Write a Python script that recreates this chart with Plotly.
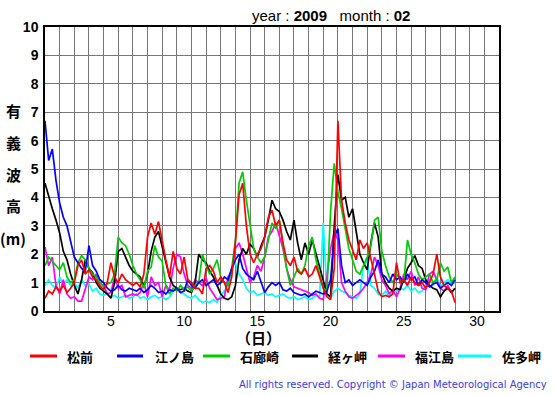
import plotly.graph_objects as go

# ---- data (6-hourly samples from Feb 1 00:00 to Feb 29 00:00, 2009) ----
step_days = 0.25
start_x = 0.5

matsumae = [0.45, 0.7, 0.6, 0.85, 0.7, 0.9, 0.65, 0.8, 1.0, 1.6, 1.8, 1.3, 1.45, 1.2, 1.1, 0.9,
            0.75, 1.0, 1.7, 1.2, 1.0, 1.3, 1.1, 1.0, 0.9, 1.0, 0.85, 1.3, 2.6, 3.1, 2.7, 3.15,
            2.4, 1.8, 1.2, 2.1, 1.5, 1.3, 1.9, 1.1, 1.0, 0.8, 0.8, 0.6, 1.5, 1.6, 1.4, 1.0,
            1.2, 1.0, 0.65, 1.2, 2.4, 4.1, 4.5, 3.0, 2.0, 1.7, 2.0, 2.2, 2.6, 3.3, 3.55, 3.0,
            3.2, 2.4, 1.8, 1.6, 1.9, 1.4, 1.3, 1.5, 1.2, 1.3, 1.6, 1.2, 0.8, 0.5, 0.4, 1.5,
            6.7, 3.9, 3.1, 2.5, 2.15, 1.8, 2.5, 2.2, 2.4, 1.9, 1.3, 0.7, 0.5, 0.55, 0.5, 0.6,
            1.7, 1.0, 1.1, 0.9, 1.2, 1.0, 0.9, 1.0, 0.8, 1.0, 1.3, 2.0, 1.2, 0.9, 0.8, 0.7, 0.3]

enoshima = [6.7, 5.3, 5.7, 4.6, 3.8, 3.3, 3.0, 2.4, 1.9, 1.7, 1.5, 1.4, 2.3, 1.6, 1.4, 1.1,
            1.0, 0.8, 0.7, 0.75, 0.9, 0.75, 0.7, 0.8, 0.75, 0.7, 0.8, 0.65, 0.75, 0.9, 0.8, 0.65,
            0.7, 0.6, 0.75, 0.7, 0.8, 0.65, 0.7, 1.1, 0.9, 0.8, 1.0, 1.1, 0.9, 1.0, 1.1, 0.9,
            1.0, 1.2, 1.1, 1.5, 1.8, 2.0, 1.5, 1.3, 1.2, 1.1, 1.4, 1.0, 0.65, 0.85, 1.0, 0.9,
            1.0, 0.75, 0.7, 0.8, 0.65, 0.6, 0.55, 0.6, 0.5, 0.6, 0.7, 0.65, 0.6, 0.7, 1.1, 2.6,
            2.9, 1.6, 1.0, 1.1, 0.9, 1.0, 1.1, 1.0, 0.9, 1.2, 1.4, 1.8, 1.3, 1.2, 1.0, 1.3,
            1.1, 1.2, 1.0, 1.3, 1.1, 1.2, 0.9, 1.1, 1.0, 0.85, 0.95, 1.0, 0.8, 0.9, 1.0, 0.9, 1.1]

irozaki = [1.6, 1.9, 1.75, 1.6, 1.45, 1.7, 1.2, 1.0, 1.1, 1.7, 1.95, 1.8, 1.5, 1.3, 1.2, 1.0,
           0.85, 0.95, 1.0, 1.3, 2.6, 2.4, 2.3, 2.0, 1.6, 1.3, 1.1, 0.8, 1.4, 1.55, 2.3, 1.9,
           1.75, 0.9, 0.6, 0.8, 0.7, 0.9, 0.75, 0.85, 0.7, 0.9, 1.0, 2.0, 1.6, 1.3, 1.5, 1.8,
           1.2, 1.0, 0.9, 1.5, 2.5, 4.5, 4.9, 3.9, 3.0, 2.2, 1.9, 1.7, 1.9, 2.5, 3.1, 2.9,
           3.2, 2.3, 1.5, 0.9, 1.2, 1.5, 1.3, 1.6, 2.3, 2.6, 1.8, 1.3, 0.8, 0.7, 3.5, 5.2,
           4.2, 3.6, 2.9, 2.2, 1.8, 1.4, 1.3, 1.6, 1.9, 2.3, 3.2, 3.3, 2.1, 1.6, 1.2, 1.0,
           1.3, 1.1, 1.0, 2.5, 2.0, 1.7, 1.3, 1.1, 1.2, 1.3, 1.0, 1.1, 1.7, 1.4, 1.55, 1.0, 1.2]

kyogamisaki = [4.5, 4.0, 3.6, 3.2, 2.75, 2.1, 1.8, 1.3, 0.9, 0.6, 1.1, 1.8, 1.5, 1.35, 1.0, 0.8,
               0.7, 0.6, 0.45, 1.0, 2.1, 2.2, 1.9, 1.6, 1.4, 1.3, 1.2, 0.85, 1.3, 2.1, 2.6, 2.8,
               2.3, 1.7, 1.2, 0.9, 0.8, 0.75, 0.8, 0.7, 0.65, 1.0, 2.0, 1.8, 1.7, 1.4, 1.2, 0.9,
               0.6, 0.45, 0.4, 0.5, 0.9, 1.8, 2.2, 2.0, 2.35, 2.2, 1.9, 2.3, 2.6, 3.2, 3.9, 3.6,
               3.5, 3.2, 2.8, 2.5, 3.2, 2.4, 1.8, 2.4, 2.0, 2.5, 2.0, 1.5, 1.0, 0.6, 0.5, 3.0,
               4.8, 3.9, 4.0, 3.3, 3.6, 2.8, 2.0, 1.7, 1.45, 2.4, 3.1, 2.6, 1.3, 1.0, 0.8, 0.7,
               0.8, 0.75, 1.1, 1.5, 1.7, 1.95, 1.6, 1.5, 1.1, 0.9, 0.8, 0.75, 0.5, 0.7, 0.8, 0.65, 0.8]

fukuejima = [2.25, 1.6, 1.9, 0.9, 0.6, 1.1, 0.6, 0.45, 0.5, 0.35, 0.35, 0.8, 1.2, 1.1, 1.3, 1.0,
             0.9, 0.6, 0.65, 1.2, 0.8, 0.9, 0.5, 0.55, 0.6, 0.55, 0.65, 1.0, 0.5, 1.2, 0.9, 1.0,
             0.5, 0.9, 0.75, 1.5, 2.0, 1.9, 1.3, 0.9, 0.8, 1.1, 1.0, 0.9, 1.15, 0.8, 0.6, 0.4,
             0.45, 0.5, 1.2, 1.4, 2.2, 2.4, 2.0, 1.5, 1.0, 1.2, 1.6, 1.4, 1.9, 2.6, 2.8, 3.1,
             2.6, 2.2, 1.5, 1.1, 0.85, 0.8, 0.75, 0.7, 0.65, 0.55, 0.6, 0.45, 0.4, 1.2, 2.2, 2.8,
             2.5, 1.0, 0.7, 0.5, 0.45, 0.55, 0.65, 0.8, 1.0, 1.3, 1.9, 1.6, 1.1, 0.9, 0.6, 0.75,
             0.5, 0.8, 1.3, 1.1, 1.4, 0.9, 1.2, 0.8, 0.75, 1.3, 1.4, 1.1, 0.8, 0.7, 0.9, 0.65, 0.8]

satamisaki = [0.9, 1.1, 0.9, 0.8, 1.2, 0.9, 1.1, 0.9, 1.0, 0.8, 1.1, 0.9, 0.95, 0.7, 0.8, 0.6,
              0.55, 0.6, 0.5, 0.55, 0.45, 0.5, 0.55, 0.45, 0.5, 0.6, 0.45, 0.5, 0.4, 0.5, 0.55, 0.45,
              0.5, 0.4, 0.5, 0.7, 0.8, 0.65, 0.6, 0.5, 0.45, 0.55, 0.4, 0.3, 0.35, 0.3, 0.4, 0.3,
              0.55, 0.7, 0.9, 1.5, 1.7, 1.3, 1.1, 0.8, 0.65, 0.7, 0.55, 0.6, 0.65, 0.55, 0.6, 0.5,
              0.55, 0.6, 0.5, 0.45, 0.5, 0.4, 0.45, 0.5, 0.4, 0.45, 0.55, 0.5, 3.1, 0.6, 0.45, 0.7,
              0.8, 0.7, 0.65, 0.55, 0.5, 0.45, 0.6, 1.6, 1.8, 0.9, 0.8, 0.6, 0.55, 0.7, 0.5, 0.65,
              0.7, 0.8, 0.75, 0.9, 0.7, 0.8, 0.65, 0.7, 0.9, 1.1, 0.9, 1.2, 0.85, 1.0, 1.1, 0.95, 1.0]

series_names = ["松前", "江ノ島", "石廊崎", "経ヶ岬", "福江島", "佐多岬"]
series_values = [matsumae, enoshima, irozaki, kyogamisaki, fukuejima, satamisaki]
series_colors = ["#ff0000", "#0000ff", "#00cc00", "#000000", "#ff00ff", "#00ffff"]

x_tick_vals = [5, 10, 15, 20, 25, 30]
y_tick_vals = list(range(0, 11))
year_text = "2009"
month_text = "02"
y_title_chars = ["有", "義", "波", "高", "(m)"]
x_title = "（日）"
copyright_text = "All rights reserved. Copyright © Japan Meteorological Agency"

# ---- layout geometry (pixels) ----
W, H = 555, 395
L, R, T, B = 45, 56, 27, 84
PW, PH = W - L - R, H - T - B


def px(xp):
    return (xp - L) / PW


def py(yp):
    return (H - B - yp) / PH


fig = go.Figure()

draw_order = [5, 4, 3, 2, 1, 0]
for k in draw_order:
    vals = series_values[k]
    xs = [start_x + i * step_days for i in range(len(vals))]
    fig.add_trace(go.Scatter(x=xs, y=vals, mode="lines", name=series_names[k],
                             line=dict(color=series_colors[k], width=1.7),
                             showlegend=False, hoverinfo="skip"))

font_family = "Liberation Sans, Arial, sans-serif"
cjk_family = "Noto Sans CJK JP, sans-serif"

annotations = []
shapes = []

# title
annotations.append(dict(xref="paper", yref="paper", x=px(250), y=py(15), xanchor="left",
                        yanchor="middle", showarrow=False,
                        text=f"year : <b>{year_text}</b>&nbsp;&nbsp;&nbsp;month : <b>{month_text}</b>",
                        font=dict(family=font_family, size=15, color="#000")))

# y title characters
y_char_pos = [110, 142, 174, 206, 238]
for ch, yp in zip(y_title_chars, y_char_pos):
    annotations.append(dict(xref="paper", yref="paper", x=px(13), y=py(yp), xanchor="center",
                            yanchor="middle", showarrow=False, text=ch,
                            font=dict(family=cjk_family, size=15, color="#000", weight="bold")))

# x title
annotations.append(dict(xref="paper", yref="paper", x=px(258), y=py(337), xanchor="center",
                        yanchor="middle", showarrow=False, text=x_title,
                        font=dict(family=cjk_family, size=15, color="#000", weight="bold")))

# legend
legend_line_x = [(30, 57), (117, 143), (203, 230), (292, 318), (378, 405), (458, 491)]
legend_text_x = [65, 153, 238, 326, 413, 500]
legend_y = 356
for k in range(6):
    x1, x2 = legend_line_x[k]
    shapes.append(dict(type="line", xref="paper", yref="paper", x0=px(x1), x1=px(x2),
                       y0=py(legend_y), y1=py(legend_y),
                       line=dict(color=series_colors[k], width=3)))
    annotations.append(dict(xref="paper", yref="paper", x=px(legend_text_x[k]), y=py(legend_y),
                            xanchor="left", yanchor="middle", showarrow=False,
                            text=series_names[k],
                            font=dict(family=cjk_family, size=13, color="#000", weight="bold")))

# copyright
annotations.append(dict(xref="paper", yref="paper", x=px(549), y=py(384), xanchor="right",
                        yanchor="middle", showarrow=False, text=copyright_text,
                        font=dict(family="DejaVu Sans, sans-serif", size=10, color="#3a3aee")))

grid_color = "#777777"
fig.update_layout(
    width=W, height=H,
    margin=dict(l=L, r=R, t=T, b=B, pad=0),
    paper_bgcolor="white", plot_bgcolor="white",
    annotations=annotations, shapes=shapes,
    xaxis=dict(range=[0.5, 31.5], tickmode="array", tickvals=x_tick_vals,
               ticktext=[str(v) for v in x_tick_vals], showgrid=False, zeroline=False,
               ticks="", showline=True, linecolor="black", linewidth=1.5, mirror=True,
               ticklabelstandoff=-4,
               tickfont=dict(family=font_family, size=14, color="#000"),
               minor=dict(tickmode="array", tickvals=[v + 0.5 for v in range(0, 32)],
                          showgrid=True, gridcolor=grid_color, gridwidth=1, ticks="")),
    yaxis=dict(range=[0, 10], tickmode="array", tickvals=y_tick_vals,
               showgrid=True, gridcolor=grid_color, gridwidth=1, zeroline=False,
               ticks="", showline=True, linecolor="black", linewidth=1.5, mirror=True,
               ticklabelstandoff=2,
               tickfont=dict(family=font_family, size=14, color="#000", weight="bold")),
)

fig.write_html("out.html", config={"displayModeBar": False},
               post_script="document.body.style.margin='0';document.body.style.overflow='hidden';")
